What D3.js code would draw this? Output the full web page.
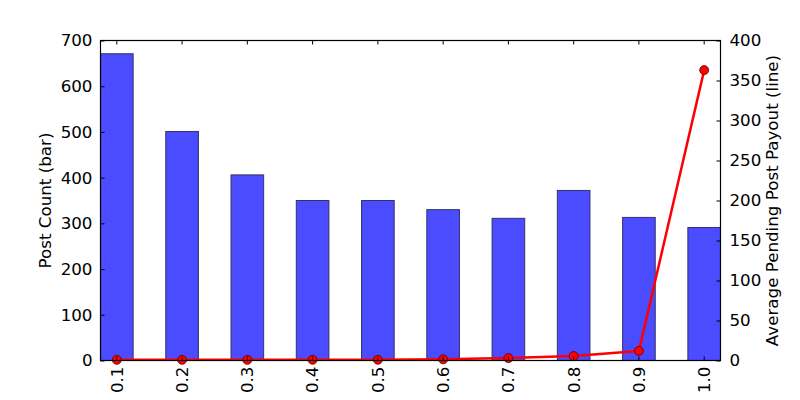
<!DOCTYPE html>
<html><head><meta charset="utf-8">
<script src="https://cdn.jsdelivr.net/npm/d3@7"></script>
<style>body{margin:0;background:#fff}svg{display:block}text{font-family:"DejaVu Sans",sans-serif}</style>
</head><body><svg id="c" width="800" height="400"></svg>
<script>
const categories = ["0.1","0.2","0.3","0.4","0.5","0.6","0.7","0.8","0.9","1.0"];
const postCount = [671, 501, 406, 350, 350, 330, 311, 372, 313, 291];
const avgPayout = [0.8, 0.8, 0.8, 0.9, 1.0, 1.5, 3.0, 5.5, 12, 363];
const leftTicks = [0,100,200,300,400,500,600,700];
const rightTicks = [0,50,100,150,200,250,300,350,400];

const svg = d3.select("#c");
const L = 100.5, R = 720.5, T = 40.5, B = 360.5;
const x = d3.scaleBand().domain(categories).range([L, R]).paddingInner(0.5).paddingOuter(0);
const yL = d3.scaleLinear().domain([0, 700]).range([B, T]);
const yR = d3.scaleLinear().domain([0, 400]).range([B, T]);
const cx = d => x(d) + x.bandwidth() / 2;
const fs = 16.7;

// bars
svg.append("g").selectAll("rect").data(categories).join("rect")
  .attr("x", d => x(d)).attr("width", x.bandwidth())
  .attr("y", (d, i) => yL(postCount[i])).attr("height", (d, i) => B - yL(postCount[i]))
  .attr("fill", "#4b4bff").attr("stroke", "#333366").attr("stroke-width", 1);

// line
const line = d3.line().x((d, i) => cx(categories[i])).y(d => yR(d));
svg.append("path").datum(avgPayout).attr("d", line)
  .attr("fill", "none").attr("stroke", "#ff0000").attr("stroke-width", 2.5).attr("stroke-linejoin", "round");
svg.append("g").selectAll("circle").data(avgPayout).join("circle")
  .attr("cx", (d, i) => cx(categories[i])).attr("cy", d => yR(d)).attr("r", 4.5)
  .attr("fill", "#ff0000").attr("stroke", "#550000").attr("stroke-width", 0.8);

// frame
svg.append("rect").attr("x", L).attr("y", T).attr("width", R - L).attr("height", B - T)
  .attr("fill", "none").attr("stroke", "#000").attr("stroke-width", 1.2);

// left axis
const gl = svg.append("g").attr("transform", `translate(${L},0)`)
  .call(d3.axisLeft(yL).tickValues(leftTicks).tickSize(-4).tickPadding(8).tickFormat(d3.format("d")));
// right axis
const gr = svg.append("g").attr("transform", `translate(${R},0)`)
  .call(d3.axisRight(yR).tickValues(rightTicks).tickSize(-4).tickPadding(9).tickFormat(d3.format("d")));
// bottom axis
const gb = svg.append("g").attr("transform", `translate(0,${B})`)
  .call(d3.axisBottom(x).tickSize(-4).tickPadding(8));
gb.selectAll(".tick text").attr("transform", "rotate(-90)").attr("text-anchor", "end")
  .attr("x", -6).attr("y", 0).attr("dy", "0.35em");
// top ticks
const gt = svg.append("g").attr("transform", `translate(0,${T})`)
  .call(d3.axisTop(x).tickSize(-4).tickFormat(""));
[gl, gr, gb, gt].forEach(g => {
  g.select(".domain").remove();
  g.selectAll(".tick line").attr("stroke", "#000").attr("stroke-width", 1);
  g.selectAll(".tick text").attr("fill", "#000").attr("font-size", fs).attr("font-family", "DejaVu Sans");
});

// axis labels
svg.append("text").attr("transform", `translate(51,${(T + B) / 2}) rotate(-90)`)
  .attr("text-anchor", "middle").attr("font-size", fs).text("Post Count (bar)");
svg.append("text").attr("transform", `translate(778,${(T + B) / 2}) rotate(-90)`)
  .attr("text-anchor", "middle").attr("font-size", fs).text("Average Pending Post Payout (line)");
</script></body></html>
